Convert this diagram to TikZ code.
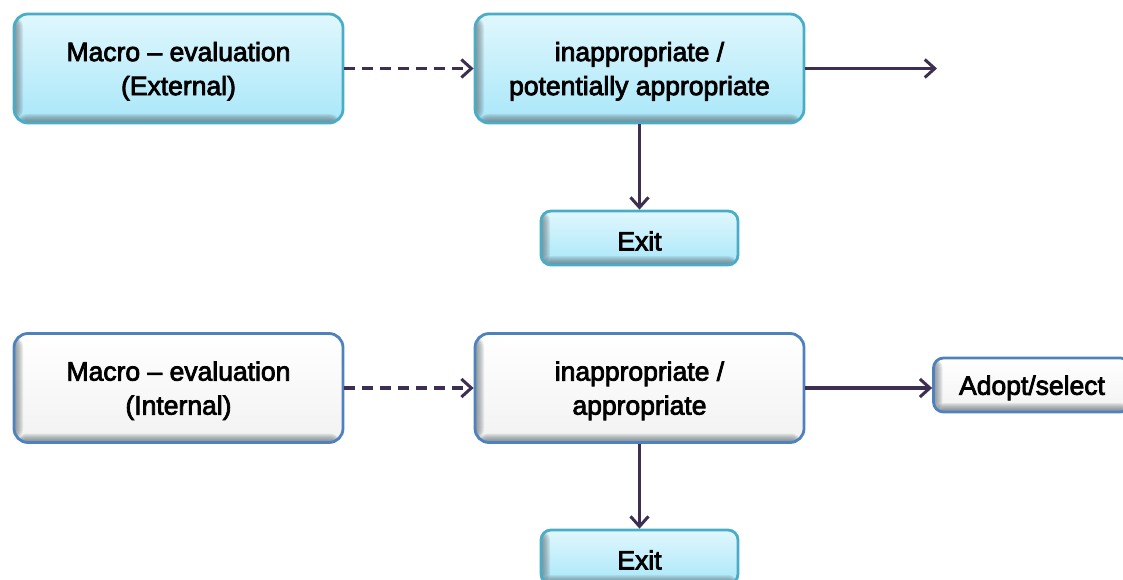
\documentclass[tikz,border=0pt]{standalone}
\usepackage{fontspec}
\setmainfont{Liberation Sans}
\newfontfamily\boxfont{Liberation Sans}[FakeBold=3]
\usetikzlibrary{arrows.meta}

\definecolor{cyantop}{HTML}{E0F7FD}
\definecolor{cyanbot}{HTML}{A9E7F9}
\definecolor{cyanedge}{HTML}{4AADC7}
\definecolor{whitetop}{HTML}{FFFFFF}
\definecolor{whitebot}{HTML}{F2F2F2}
\definecolor{blueedge}{HTML}{4F81BD}
\definecolor{bevel}{HTML}{5E6A70}
\definecolor{linkcol}{HTML}{3D2F52}

\tikzset{
  box/.style={rounded corners=14pt, line width=2.8pt, inner sep=0pt,
    align=center, font=\boxfont\fontsize{26.5}{34}\selectfont,
    % inner bevel: stacked translucent strips along the left and bottom edges
    path picture={
      \foreach \i in {1,...,9}{
        \fill[bevel, opacity=0.11]
          (path picture bounding box.south west) rectangle
          ([xshift=\i pt]path picture bounding box.north west);
        \fill[bevel, opacity=0.12]
          (path picture bounding box.south west) rectangle
          ([yshift=\i pt]path picture bounding box.south east);
      }
    }},
  % text sits a little below the centre of each box
  bigbox/.style={box, minimum width=329pt, minimum height=109pt,
    text depth=0pt},
  smallbox/.style={box, rounded corners=10pt, minimum width=197pt, minimum height=54pt,
    execute at begin node={\rule{0pt}{25pt}}},
  cyanfill/.style={draw=cyanedge, top color=cyantop, bottom color=cyanbot},
  whitefill/.style={draw=blueedge, top color=whitetop, bottom color=whitebot},
  link/.style={draw=linkcol, line width=3.2pt,
    -{Straight Barb[length=10pt, width=18pt, line width=3pt]}},
  dashlink/.style={link, dash pattern=on 11pt off 7pt},
}

\begin{document}
\begin{tikzpicture}[x=1pt, y=-1pt]
  \path[use as bounding box] (0,0) rectangle (1123,580);
  \clip (0,0) rectangle (1123,580);

  % external evaluation row
  \node[bigbox, cyanfill] (extmacro) at (178.5,68.5) {Macro – evaluation\\(External)};
  \node[bigbox, cyanfill] (extjudge) at (639.5,68.5) {inappropriate /\\potentially appropriate};
  \node[smallbox, cyanfill] (extexit) at (639.5,238) {Exit};
  \coordinate (extout) at (937,68.5);

  % internal evaluation row
  \node[bigbox, whitefill] (intmacro) at (178.5,388) {Macro – evaluation\\(Internal)};
  \node[bigbox, whitefill] (intjudge) at (639.5,388) {inappropriate /\\appropriate};
  \node[smallbox, cyanfill] (intexit) at (639.5,557) {Exit};
  \node[smallbox, whitefill] (adopt) at (1032,385) {Adopt/select};

  % connectors
  \draw[dashlink] (extmacro.east) -- (extjudge.west);
  \draw[link] (extjudge.east) -- (extout);
  \draw[link] (extjudge.south) -- (extexit.north);

  \draw[dashlink] (intmacro.east) -- (intjudge.west);
  \draw[link] (intjudge.east) -- (adopt.west |- intjudge.east);
  \draw[link] (intjudge.south) -- (intexit.north);
\end{tikzpicture}
\end{document}
